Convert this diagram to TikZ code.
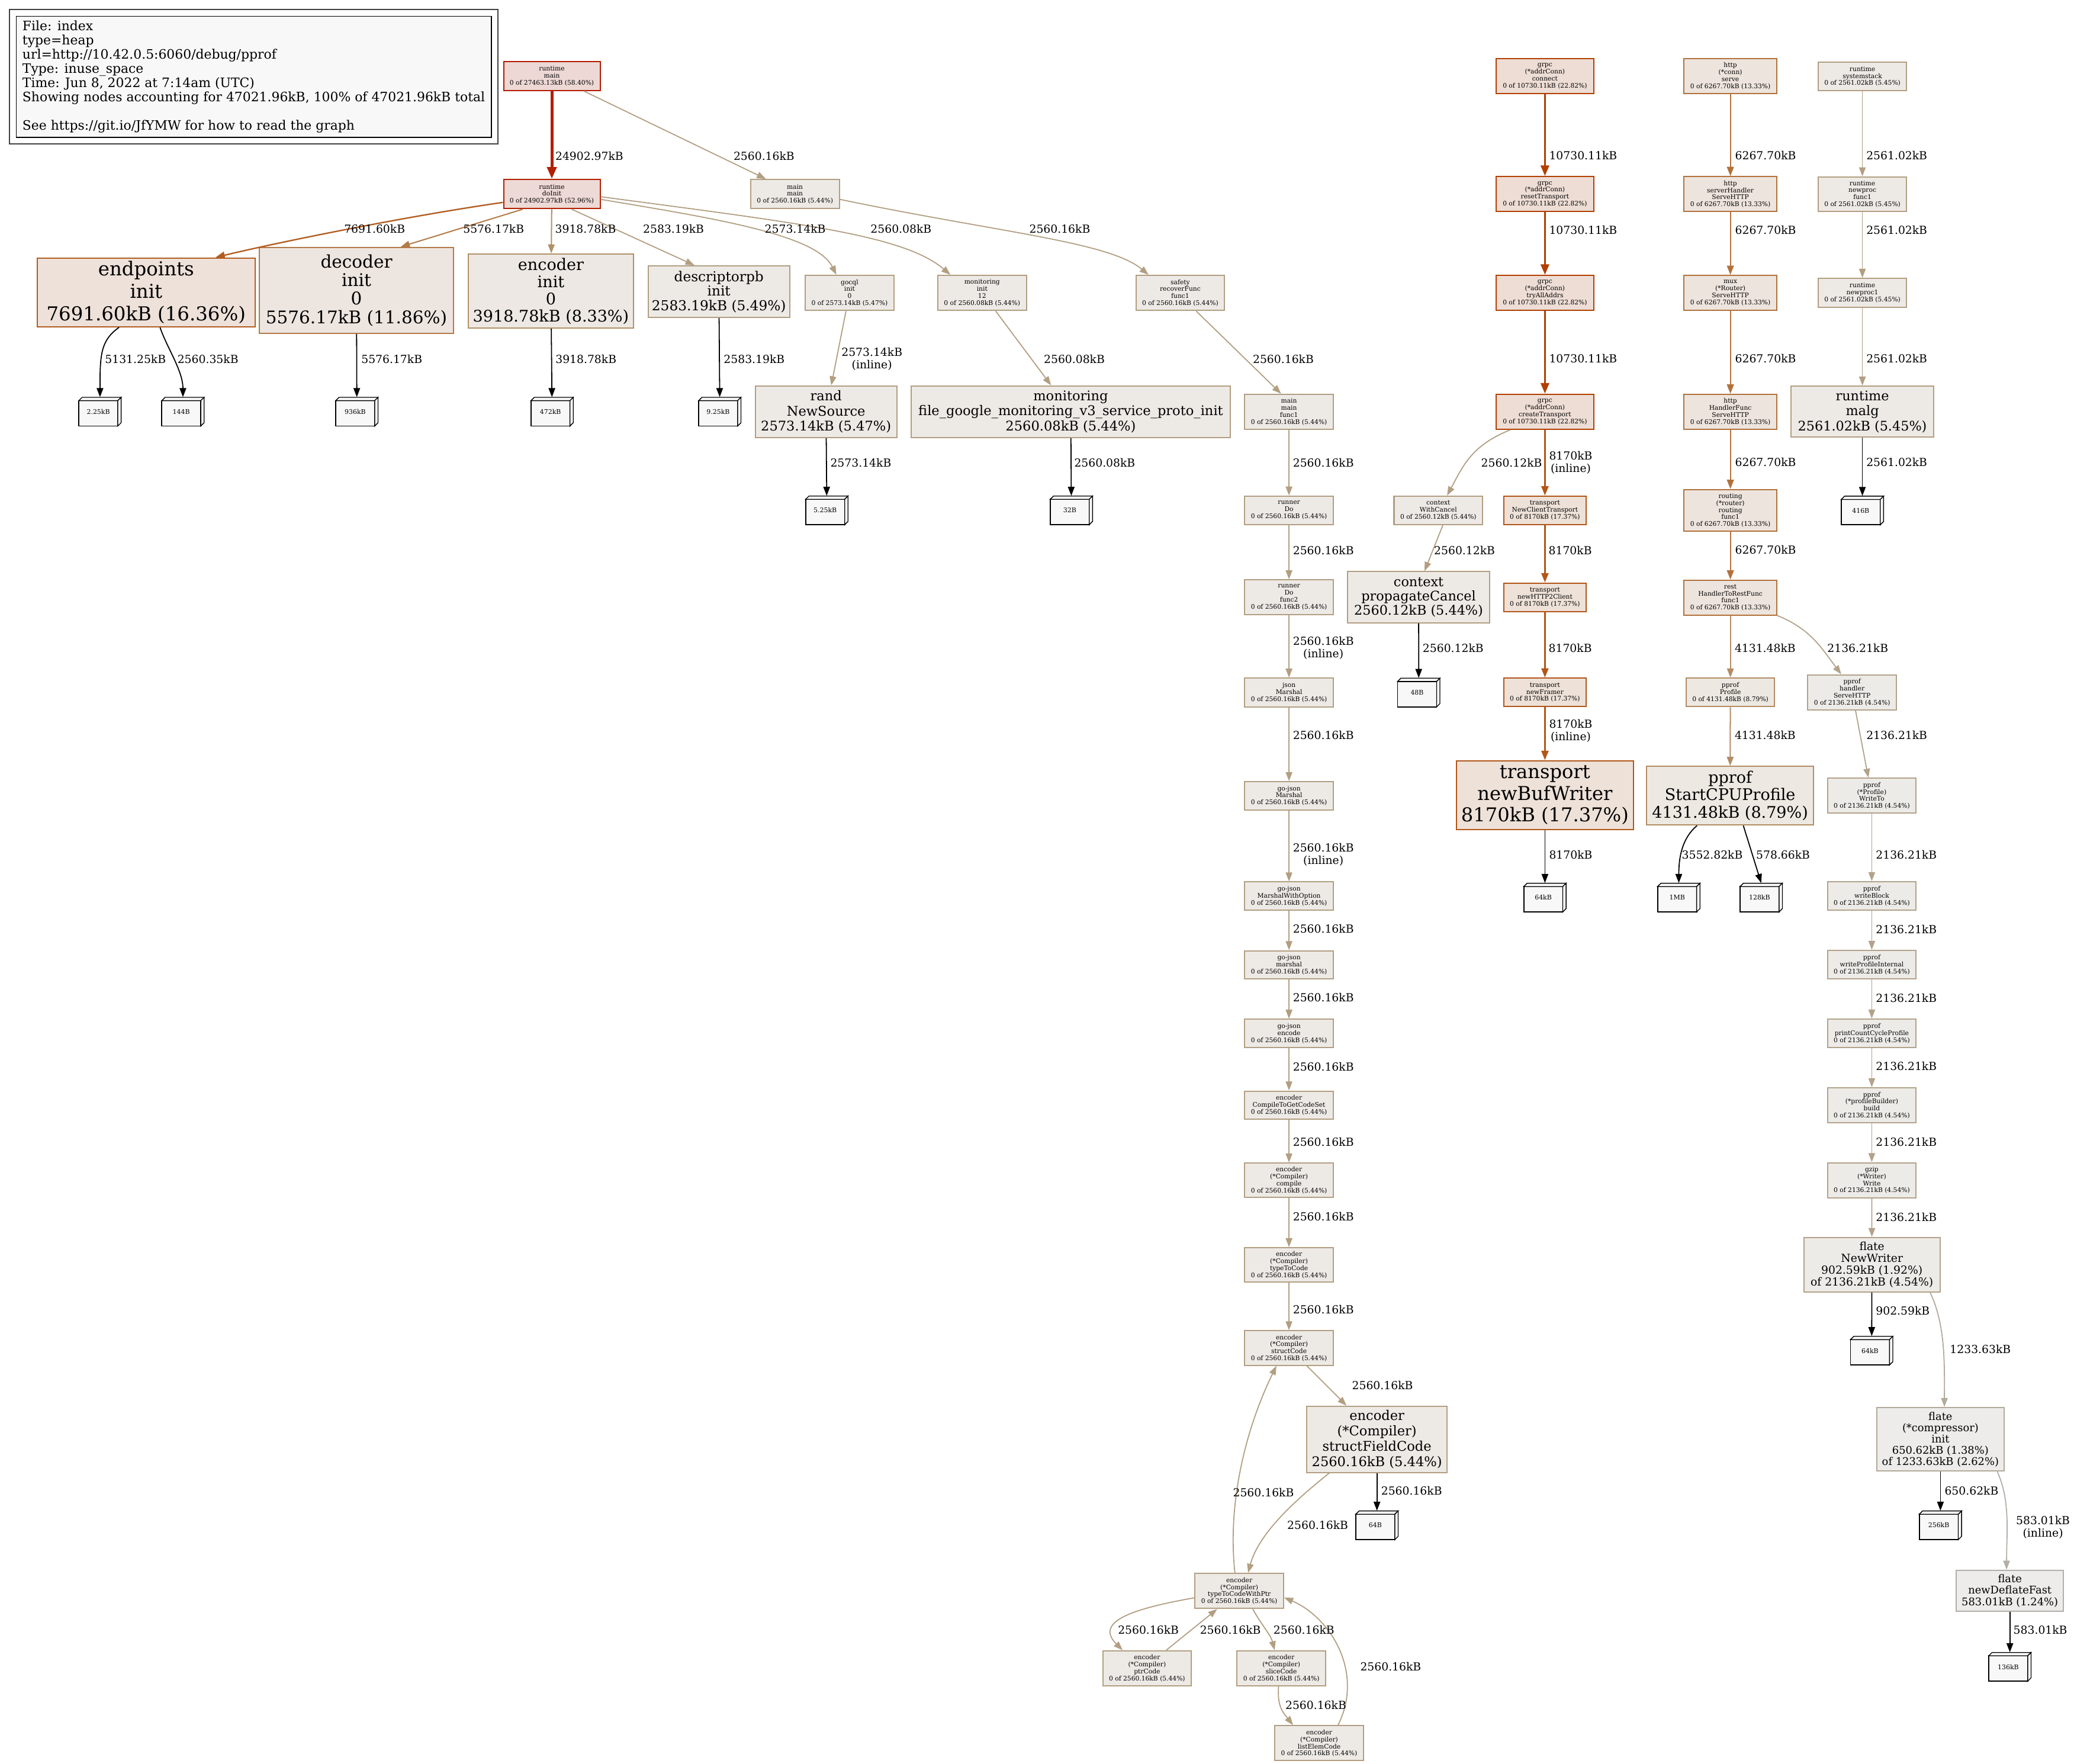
\documentclass[tikz,border=0pt]{standalone}
\usepackage{fontspec}
\setmainfont{DejaVu Serif}
\usetikzlibrary{arrows.meta,fit}
\definecolor{fA}{HTML}{EDD8D5}\definecolor{dA}{HTML}{B21A00}
\definecolor{fB}{HTML}{EDD9D5}\definecolor{dB}{HTML}{B21F00}
\definecolor{fG}{HTML}{EDDDD5}\definecolor{dG}{HTML}{B23F00}
\definecolor{fT}{HTML}{EDE1D8}\definecolor{dT}{HTML}{B25617}
\definecolor{fE}{HTML}{EDE1D9}\definecolor{dE}{HTML}{B25D20}
\definecolor{fH}{HTML}{EDE4DD}\definecolor{dH}{HTML}{B2713B}
\definecolor{fD}{HTML}{EDE5DF}\definecolor{dD}{HTML}{B27A48}
\definecolor{fP}{HTML}{EDE8E2}\definecolor{dP}{HTML}{B28C64}
\definecolor{fN}{HTML}{EDE8E3}\definecolor{dN}{HTML}{B28F68}
\definecolor{fF}{HTML}{EDEAE6}\definecolor{dF}{HTML}{B29E81}
\definecolor{fR}{HTML}{EDEBE7}\definecolor{dR}{HTML}{B2A28A}
\definecolor{fL}{HTML}{EDECEA}\definecolor{dL}{HTML}{B2AA9B}
\definecolor{fM}{HTML}{EDECEB}\definecolor{dM}{HTML}{B2AFA7}
\definecolor{cubef}{HTML}{F8F8F8}
\tikzset{
  nb/.style={rectangle, draw, line width=0.9pt, inner sep=0pt, align=center, text=black},
  sm/.style={font=\fontsize{4.8}{5.3}\selectfont},
  wh/.style 2 args={minimum width=#1, minimum height=#2},
  nA/.style={fill=fA, draw=dA}, nB/.style={fill=fB, draw=dB},
  nG/.style={fill=fG, draw=dG}, nT/.style={fill=fT, draw=dT},
  nE/.style={fill=fE, draw=dE}, nH/.style={fill=fH, draw=dH},
  nD/.style={fill=fD, draw=dD}, nP/.style={fill=fP, draw=dP},
  nN/.style={fill=fN, draw=dN}, nF/.style={fill=fF, draw=dF},
  nR/.style={fill=fR, draw=dR}, nL/.style={fill=fL, draw=dL},
  nM/.style={fill=fM, draw=dM},
  el/.style={anchor=west, inner sep=0pt, align=center, font=\fontsize{8.4}{9.4}\selectfont},
  ed/.style={line width=0.8pt, -{Triangle[length=6.8pt,width=5pt]}},
  eA/.style={draw=dB, line width=2.2pt, -{Triangle[length=9pt,width=7pt]}},
  eG/.style={draw=dG, line width=1.7pt, -{Triangle[length=8pt,width=6.2pt]}},
  eT/.style={draw=dT, line width=1.1pt, -{Triangle[length=7pt,width=5.4pt]}},
  eE/.style={draw=dE, line width=1.05pt, -{Triangle[length=7pt,width=5.4pt]}},
  eH/.style={draw=dH, line width=1pt, -{Triangle[length=7pt,width=5.2pt]}},
  eD/.style={ed, draw=dD, line width=0.9pt},
  eP/.style={ed, draw=dP, line width=0.9pt},
  eN/.style={ed, draw=dN, line width=0.9pt},
  eF/.style={ed, draw=dF},
  eR/.style={ed, draw=dR},
  eL/.style={ed, draw=dL},
  eM/.style={ed, draw=dM},
  eK/.style={ed, draw=black},
  cubebox/.style={rectangle, inner sep=0pt, minimum width=32, minimum height=21.7, font=\fontsize{4.9}{5.2}\selectfont},
  cubeline/.style={draw=black, line width=0.8pt, fill=cubef},
  legendbox/.style={draw=black, line width=0.8pt, fill=cubef, anchor=north west, minimum width=358, minimum height=91.4, inner xsep=4.7pt, inner ysep=0pt, align=left, font=\fontsize{9.8}{10.8}\selectfont}
}
\newcommand\mycube[4]{%
  \draw[cubeline] ({#2-16},{#3-8.35}) rectangle ({#2+13.5},{#3+10.85});
  \draw[cubeline, line width=0.6pt] ({#2-16},{#3-8.35}) -- ({#2-13.5},{#3-10.85}) -- ({#2+16},{#3-10.85}) -- ({#2+13.5},{#3-8.35}) -- cycle;
  \draw[cubeline, line width=0.6pt] ({#2+13.5},{#3-8.35}) -- ({#2+16},{#3-10.85}) -- ({#2+16},{#3+8.35}) -- ({#2+13.5},{#3+10.85}) -- cycle;
  \node[cubebox] (#1) at (#2,#3) {\raisebox{-1.2pt}{\hspace*{-2.5pt}#4}};
}
\begin{document}
\begin{tikzpicture}[x=1pt,y=-1pt]
\useasboundingbox (0,0) rectangle (1568,1333);
\fill[white] (0,0) rectangle (1568,1333);

% legend
\node[legendbox] (legend) at (11.9,11.9) {File: index\\type=heap\\url=http://10.42.0.5:6060/debug/pprof\\Type: inuse\_space\\Time: Jun 8, 2022 at 7:14am (UTC)\\Showing nodes accounting for 47021.96kB, 100\% of 47021.96kB total\\[10.8pt]See https://git.io/JfYMW for how to read the graph};
\node[draw=black!75, line width=0.9pt, fit=(legend), inner sep=4.6pt] (legendframe) {};

% top nodes
\node[nb,sm,nA,wh={73}{21.6}] (rmain) at (417.2,57.5) {runtime\\main\\0 of 27463.13kB (58.40\%)};
\node[nb,sm,nB,wh={73}{22}] (doinit) at (417.2,146.7) {runtime\\doInit\\0 of 24902.97kB (52.96\%)};
\node[nb,sm,nF,wh={67}{22}] (mmain) at (601,146.7) {main\\main\\0 of 2560.16kB (5.44\%)};

\node[nb,nE,wh={165}{52},font=\fontsize{14.5}{17}\selectfont] (endpoints) at (110.5,221) {endpoints\\init\\7691.60kB (16.36\%)};
\node[nb,nD,wh={147}{65},font=\fontsize{13.2}{14}\selectfont] (decoder) at (269.5,219.5) {decoder\\init\\0\\5576.17kB (11.86\%)};
\node[nb,nN,wh={125}{56},font=\fontsize{12.1}{13}\selectfont] (encinit) at (416.5,220) {encoder\\init\\0\\3918.78kB (8.33\%)};
\node[nb,nF,wh={107}{39},font=\fontsize{10.4}{11}\selectfont] (descpb) at (543.5,220.5) {descriptorpb\\init\\2583.19kB (5.49\%)};
\node[nb,sm,nF,wh={67}{26.5}] (gocql) at (642.3,221.4) {gocql\\init\\0\\0 of 2573.14kB (5.47\%)};
\node[nb,sm,nF,wh={67}{26.5}] (moninit) at (742.5,221.4) {monitoring\\init\\12\\0 of 2560.08kB (5.44\%)};
\node[nb,sm,nF,wh={67}{26.5}] (safety) at (892.3,221.4) {safety\\recoverFunc\\func1\\0 of 2560.16kB (5.44\%)};
\node[nb,nF,wh={107}{39},font=\fontsize{10.1}{11.5}\selectfont] (randns) at (624.5,311.2) {rand\\NewSource\\2573.14kB (5.47\%)};
\node[nb,nF,wh={241}{39},font=\fontsize{10.1}{11.5}\selectfont] (monfile) at (809.5,311.2) {monitoring\\file\_google\_monitoring\_v3\_service\_proto\_init\\2560.08kB (5.44\%)};

% middle column
\node[nb,sm,nF,wh={67}{26.3}] (mfunc1) at (974.5,311.2) {main\\main\\func1\\0 of 2560.16kB (5.44\%)};
\node[nb,sm,nF,wh={67}{21.4}] (runnerdo) at (974.5,385.7) {runner\\Do\\0 of 2560.16kB (5.44\%)};
\node[nb,sm,nF,wh={67}{26.1}] (runnerdo2) at (974.5,451.4) {runner\\Do\\func2\\0 of 2560.16kB (5.44\%)};
\node[nb,sm,nF,wh={67}{21.6}] (jsonm) at (974.5,523.5) {json\\Marshal\\0 of 2560.16kB (5.44\%)};
\node[nb,sm,nF,wh={67}{21.3}] (gjm) at (974.5,601.5) {go-json\\Marshal\\0 of 2560.16kB (5.44\%)};
\node[nb,sm,nF,wh={67}{21.4}] (gjmwo) at (974.5,677.4) {go-json\\MarshalWithOption\\0 of 2560.16kB (5.44\%)};
\node[nb,sm,nF,wh={67}{21.3}] (gjmarshal) at (974.5,729.3) {go-json\\marshal\\0 of 2560.16kB (5.44\%)};
\node[nb,sm,nF,wh={67}{21.4}] (gjencode) at (974.5,781.2) {go-json\\encode\\0 of 2560.16kB (5.44\%)};
\node[nb,sm,nF,wh={67}{21.3}] (ctgcs) at (974.5,835.4) {encoder\\CompileToGetCodeSet\\0 of 2560.16kB (5.44\%)};
\node[nb,sm,nF,wh={67}{26}] (compile) at (974.5,892.2) {encoder\\(*Compiler)\\compile\\0 of 2560.16kB (5.44\%)};
\node[nb,sm,nF,wh={67}{26}] (ttc) at (974.5,956.2) {encoder\\(*Compiler)\\typeToCode\\0 of 2560.16kB (5.44\%)};
\node[nb,sm,nF,wh={67}{26}] (structcode) at (974.5,1019) {encoder\\(*Compiler)\\structCode\\0 of 2560.16kB (5.44\%)};
\node[nb,nF,wh={106}{50},font=\fontsize{10.1}{11.7}\selectfont] (sfc) at (1041,1088) {encoder\\(*Compiler)\\structFieldCode\\2560.16kB (5.44\%)};
\node[nb,sm,nF,wh={67}{26.5}] (ttcwp) at (936.9,1202.6) {encoder\\(*Compiler)\\typeToCodeWithPtr\\0 of 2560.16kB (5.44\%)};
\node[nb,sm,nF,wh={67}{26.5}] (ptrcode) at (867.2,1261.1) {encoder\\(*Compiler)\\ptrCode\\0 of 2560.16kB (5.44\%)};
\node[nb,sm,nF,wh={67}{26.5}] (slicecode) at (968.7,1261.1) {encoder\\(*Compiler)\\sliceCode\\0 of 2560.16kB (5.44\%)};
\node[nb,sm,nF,wh={67}{26.5}] (listelem) at (997.3,1317.7) {encoder\\(*Compiler)\\listElemCode\\0 of 2560.16kB (5.44\%)};

% grpc column
\node[nb,sm,nG,wh={73.5}{26.4}] (gconnect) at (1168,57.5) {grpc\\(*addrConn)\\connect\\0 of 10730.11kB (22.82\%)};
\node[nb,sm,nG,wh={73.5}{26.4}] (greset) at (1168,146.7) {grpc\\(*addrConn)\\resetTransport\\0 of 10730.11kB (22.82\%)};
\node[nb,sm,nG,wh={73.5}{26.4}] (gtry) at (1168,221.4) {grpc\\(*addrConn)\\tryAllAddrs\\0 of 10730.11kB (22.82\%)};
\node[nb,sm,nG,wh={73.5}{26.4}] (gcreate) at (1168,311.2) {grpc\\(*addrConn)\\createTransport\\0 of 10730.11kB (22.82\%)};
\node[nb,sm,nF,wh={67}{21.6}] (withcancel) at (1087.4,385.8) {context\\WithCancel\\0 of 2560.12kB (5.44\%)};
\node[nb,sm,nT,wh={62.4}{21.6}] (nct) at (1168,385.8) {transport\\NewClientTransport\\0 of 8170kB (17.37\%)};
\node[nb,sm,nT,wh={62.4}{21.6}] (nh2c) at (1168,451.5) {transport\\newHTTP2Client\\0 of 8170kB (17.37\%)};
\node[nb,sm,nT,wh={62.4}{21.6}] (nframer) at (1168,523.4) {transport\\newFramer\\0 of 8170kB (17.37\%)};
\node[nb,nF,wh={107.5}{38.7},font=\fontsize{10}{10.6}\selectfont] (propcancel) at (1072.5,451.4) {context\\propagateCancel\\2560.12kB (5.44\%)};
\node[nb,nT,wh={134}{52},font=\fontsize{14.4}{16.5}\selectfont] (nbw) at (1168,601) {transport\\newBufWriter\\8170kB (17.37\%)};

% http column
\node[nb,sm,nH,wh={70}{26.3}] (hserve) at (1308.2,57.5) {http\\(*conn)\\serve\\0 of 6267.70kB (13.33\%)};
\node[nb,sm,nH,wh={70}{26.3}] (hsh) at (1308.2,146.7) {http\\serverHandler\\ServeHTTP\\0 of 6267.70kB (13.33\%)};
\node[nb,sm,nH,wh={70}{26.3}] (mux) at (1308.2,221.4) {mux\\(*Router)\\ServeHTTP\\0 of 6267.70kB (13.33\%)};
\node[nb,sm,nH,wh={70}{26.3}] (hfunc) at (1308.2,311.2) {http\\HandlerFunc\\ServeHTTP\\0 of 6267.70kB (13.33\%)};
\node[nb,sm,nH,wh={70}{31.5}] (routing) at (1308.2,385.8) {routing\\(*router)\\routing\\func1\\0 of 6267.70kB (13.33\%)};
\node[nb,sm,nH,wh={70}{26.3}] (rest) at (1308.2,451.7) {rest\\HandlerToRestFunc\\func1\\0 of 6267.70kB (13.33\%)};
\node[nb,sm,nP,wh={67}{21.6}] (pprofprof) at (1308.2,523.4) {pprof\\Profile\\0 of 4131.48kB (8.79\%)};
\node[nb,nP,wh={126}{44.3},font=\fontsize{12.1}{13}\selectfont] (startcpu) at (1308,601.5) {pprof\\StartCPUProfile\\4131.48kB (8.79\%)};
\node[nb,sm,nR,wh={67}{26.5}] (handler) at (1400.2,523.4) {pprof\\handler\\ServeHTTP\\0 of 2136.21kB (4.54\%)};
\node[nb,sm,nR,wh={67}{26.4}] (writeto) at (1415.1,601.5) {pprof\\(*Profile)\\WriteTo\\0 of 2136.21kB (4.54\%)};
\node[nb,sm,nR,wh={67}{21.6}] (writeblock) at (1415.1,677.3) {pprof\\writeBlock\\0 of 2136.21kB (4.54\%)};
\node[nb,sm,nR,wh={67}{21.6}] (wpi) at (1415.1,729.2) {pprof\\writeProfileInternal\\0 of 2136.21kB (4.54\%)};
\node[nb,sm,nR,wh={67}{21.6}] (pccp) at (1415.1,781.2) {pprof\\printCountCycleProfile\\0 of 2136.21kB (4.54\%)};
\node[nb,sm,nR,wh={67}{26.4}] (build) at (1415.1,835.5) {pprof\\(*profileBuilder)\\build\\0 of 2136.21kB (4.54\%)};
\node[nb,sm,nR,wh={67}{26.4}] (gzip) at (1415.1,892.1) {gzip\\(*Writer)\\Write\\0 of 2136.21kB (4.54\%)};
\node[nb,nR,wh={102.8}{41},font=\fontsize{8.4}{9}\selectfont] (newwriter) at (1415.2,956) {flate\\NewWriter\\902.59kB (1.92\%)\\of 2136.21kB (4.54\%)};
\node[nb,nL,wh={96}{48},font=\fontsize{8}{8.5}\selectfont] (compinit) at (1467,1088) {flate\\(*compressor)\\init\\650.62kB (1.38\%)\\of 1233.63kB (2.62\%)};
\node[nb,nM,wh={81}{31},font=\fontsize{8}{8.8}\selectfont] (ndf) at (1519.5,1202.5) {flate\\newDeflateFast\\583.01kB (1.24\%)};

% runtime systemstack column
\node[nb,sm,nF,wh={67}{21.4}] (sysstack) at (1408,57.7) {runtime\\systemstack\\0 of 2561.02kB (5.45\%)};
\node[nb,sm,nF,wh={67}{26}] (newprocf) at (1408,146.7) {runtime\\newproc\\func1\\0 of 2561.02kB (5.45\%)};
\node[nb,sm,nF,wh={67}{21.7}] (newproc1) at (1408,221.3) {runtime\\newproc1\\0 of 2561.02kB (5.45\%)};
\node[nb,nF,wh={108}{38.6},font=\fontsize{10}{11.5}\selectfont] (malg) at (1408,311.2) {runtime\\malg\\2561.02kB (5.45\%)};

% cubes
\mycube{c225}{75.6}{311.2}{2.25kB}
\mycube{c144}{138.3}{311.2}{144B}
\mycube{c936}{269.8}{311.2}{936kB}
\mycube{c472}{417.4}{311.2}{472kB}
\mycube{c925}{544.2}{311.2}{9.25kB}
\mycube{c525}{625.1}{385.8}{5.25kB}
\mycube{c32}{810}{385.8}{32B}
\mycube{c48}{1072.6}{523.5}{48B}
\mycube{c64k}{1168}{678.5}{64kB}
\mycube{c416}{1408}{385.9}{416B}
\mycube{c1m}{1269.2}{678.5}{1MB}
\mycube{c128}{1331.5}{678.5}{128kB}
\mycube{c64kb}{1415}{1021}{64kB}
\mycube{c64b}{1041}{1153}{64B}
\mycube{c256}{1467}{1153}{256kB}
\mycube{c136}{1519.5}{1260}{136kB}

% edges: top
\draw[eA] (rmain) -- (doinit);
\draw[eF] ([shift={(24,0)}]rmain.south) -- ([shift={(-22,0)}]mmain.north);
\draw[eE] ([shift={(0,6.3)}]doinit.west) .. controls +(-70,10) and +(50,-12) .. ([shift={(52.5,0)}]endpoints.north);
\draw[eD] ([shift={(-22,0)}]doinit.south) -- ([shift={(33.5,0)}]decoder.north);
\draw[eN] (doinit) -- (encinit);
\draw[eF] ([shift={(15,0)}]doinit.south) -- ([shift={(-18.5,0)}]descpb.north);
\draw[eF] ([shift={(0,4)}]doinit.east) .. controls +(90,15) and +(-15,-30) .. ([shift={(-10,0)}]gocql.north);
\draw[eF] ([shift={(0,2)}]doinit.east) .. controls +(150,20) and +(-35,-30) .. ([shift={(-24,0)}]moninit.north);
\draw[eF] ([shift={(0,4)}]mmain.east) .. controls +(120,25) and +(-30,-25) .. ([shift={(-24,0)}]safety.north);
\draw[eF] ([shift={(12,0)}]safety.south) -- ([shift={(-6,0)}]mfunc1.north);
\draw[eF] (gocql) -- (randns);
\draw[eF] (moninit) -- (monfile);
\draw[eK] ([shift={(-20.5,0)}]endpoints.south) .. controls +(-14,10) and +(0,-32) .. (c225.north);
\draw[eK] ([shift={(10.5,0)}]endpoints.south) .. controls +(5,15) and +(0,-20) .. (c144.north);
\draw[eK] (decoder) -- (c936);
\draw[eK] (encinit) -- (c472);
\draw[eK] (descpb) -- (c925);
\draw[eK] (randns) -- (c525);
\draw[eK] (monfile) -- (c32);

% middle chain
\draw[eF] (mfunc1) -- (runnerdo);
\draw[eF] (runnerdo) -- (runnerdo2);
\draw[eF] (runnerdo2) -- (jsonm);
\draw[eF] (jsonm) -- (gjm);
\draw[eF] (gjm) -- (gjmwo);
\draw[eF] (gjmwo) -- (gjmarshal);
\draw[eF] (gjmarshal) -- (gjencode);
\draw[eF] (gjencode) -- (ctgcs);
\draw[eF] (ctgcs) -- (compile);
\draw[eF] (compile) -- (ttc);
\draw[eF] (ttc) -- (structcode);
\draw[eF] ([shift={(13.5,0)}]structcode.south) -- ([shift={(-23,0)}]sfc.north);
\draw[eK] (sfc) -- (c64b);
\draw[eF] ([shift={(-36,0)}]sfc.south) .. controls +(-25,20) and +(8,-30) .. ([shift={(6.7,0)}]ttcwp.north);
\draw[eF] ([shift={(-3.3,0)}]ttcwp.north) .. controls +(-6,-55) and +(-22,45) .. ([shift={(-9.5,0)}]structcode.south);
\draw[eF] ([shift={(0,5.2)}]ttcwp.west) .. controls +(-45,8) and +(-22,-22) .. ([shift={(-18.5,0)}]ptrcode.north);
\draw[eF] ([shift={(14.5,0)}]ptrcode.north) -- ([shift={(-16.7,0)}]ttcwp.south);
\draw[eF] ([shift={(10.3,0)}]ttcwp.south) .. controls +(5,10) and +(-3,-12) .. ([shift={(-5.1,0)}]slicecode.north);
\draw[eF] ([shift={(-2.1,0)}]slicecode.south) .. controls +(-1,15) and +(-8,-10) .. ([shift={(-19.7,0)}]listelem.north);
\draw[eF] ([shift={(14.3,0)}]listelem.north) .. controls +(20,-40) and +(35,15) .. ([shift={(0,5)}]ttcwp.east);

% grpc edges
\draw[eG] (gconnect) -- (greset);
\draw[eG] (greset) -- (gtry);
\draw[eG] (gtry) -- (gcreate);
\draw[eT] (gcreate) -- (nct);
\draw[eF] ([shift={(-26,0)}]gcreate.south) .. controls +(-30,12) and +(12,-22) .. ([shift={(6.6,0)}]withcancel.north);
\draw[eT] (nct) -- (nh2c);
\draw[eT] (nh2c) -- (nframer);
\draw[eT] (nframer) -- (nbw);
\draw[eK] (nbw) -- (c64k);
\draw[eF] ([shift={(3.4,0)}]withcancel.south) -- ([shift={(4.5,0)}]propcancel.north);
\draw[eK] (propcancel) -- (c48);

% http edges
\draw[eH] (hserve) -- (hsh);
\draw[eH] (hsh) -- (mux);
\draw[eH] (mux) -- (hfunc);
\draw[eH] (hfunc) -- (routing);
\draw[eH] (routing) -- (rest);
\draw[eP] (rest) -- (pprofprof);
\draw[eR] (rest.south east) .. controls +(25,10) and +(-15,-20) .. ([shift={(-8.2,0)}]handler.north);
\draw[eP] (pprofprof) -- (startcpu);
\draw[eR] (handler) -- (writeto);
\draw[eK] ([shift={(-25,0)}]startcpu.south) .. controls +(-12,10) and +(0,-18) .. (c1m.north);
\draw[eK] ([shift={(10,0)}]startcpu.south) -- (c128.north);
\draw[eR] (writeto) -- (writeblock);
\draw[eR] (writeblock) -- (wpi);
\draw[eR] (wpi) -- (pccp);
\draw[eR] (pccp) -- (build);
\draw[eR] (build) -- (gzip);
\draw[eR] (gzip) -- (newwriter);
\draw[eK] (newwriter) -- (c64kb);
\draw[eL] ([shift={(44,0)}]newwriter.south) .. controls +(12,25) and +(0,-30) .. ([shift={(3,0)}]compinit.north);
\draw[eK] (compinit) -- (c256);
\draw[eM] ([shift={(43,0)}]compinit.south) .. controls +(10,22) and +(0,-28) .. ([shift={(-2.5,0)}]ndf.north);
\draw[eK] (ndf) -- (c136);

% systemstack edges
\draw[eF] (sysstack) -- (newprocf);
\draw[eF] (newprocf) -- (newproc1);
\draw[eF] (newproc1) -- (malg);
\draw[eK] (malg) -- (c416);

% edge labels
\node[el] (l01) at (419.7,117.8) {24902.97kB};
\node[el] (l02) at (554.4,117.8) {2560.16kB};
\node[el] (l03) at (260,173) {7691.60kB};
\node[el] (l04) at (350,173) {5576.17kB};
\node[el] (l05) at (419.5,173) {3918.78kB};
\node[el] (l06) at (486,173) {2583.19kB};
\node[el] (l07) at (578,173) {2573.14kB};
\node[el] (l08) at (658,173) {2560.08kB};
\node[el] (l09) at (778,173) {2560.16kB};
\node[el] (l10) at (79.2,271.6) {5131.25kB};
\node[el] (l11) at (134,271.6) {2560.35kB};
\node[el] (l12) at (273,271.6) {5576.17kB};
\node[el] (l13) at (419.8,271.6) {3918.78kB};
\node[el] (l14) at (547,271.6) {2583.19kB};
\node[el] (l15) at (636,271.6) {2573.14kB\\(inline)};
\node[el] (l16) at (789,271.6) {2560.08kB};
\node[el] (l17) at (947,271.6) {2560.16kB};
\node[el] (l18) at (627.6,349.6) {2573.14kB};
\node[el] (l19) at (812,349.6) {2560.08kB};
\node[el] (l20) at (977.3,349.6) {2560.16kB};
\node[el] (l21) at (977.3,416) {2560.16kB};
\node[el] (l22) at (977.3,490) {2560.16kB\\(inline)};
\node[el] (l23) at (977.3,555.6) {2560.16kB};
\node[el] (l24) at (977.3,646.2) {2560.16kB\\(inline)};
\node[el] (l25) at (977.3,702.2) {2560.16kB};
\node[el] (l26) at (977.3,754.1) {2560.16kB};
\node[el] (l27) at (977.3,806.3) {2560.16kB};
\node[el] (l28) at (977.3,863) {2560.16kB};
\node[el] (l29) at (977.3,919.8) {2560.16kB};
\node[el] (l30) at (977.3,990) {2560.16kB};
\node[el] (l31) at (1022,1047) {2560.16kB};
\node[el] (l32) at (1044,1127) {2560.16kB};
\node[el] (l33) at (973,1153) {2560.16kB};
\node[el] (l34) at (932,1128) {2560.16kB};
\node[el] (l35) at (845,1232) {2560.16kB};
\node[el] (l36) at (907,1232) {2560.16kB};
\node[el] (l37) at (962.6,1232) {2560.16kB};
\node[el] (l38) at (1028.2,1260) {2560.16kB};
\node[el] (l39) at (971.6,1288.9) {2560.16kB};
\node[el] (l40) at (1171,117.3) {10730.11kB};
\node[el] (l41) at (1171,174) {10730.11kB};
\node[el] (l42) at (1171,271) {10730.11kB};
\node[el] (l43) at (1171,349.7) {8170kB\\(inline)};
\node[el] (l44) at (1119.6,349.8) {2560.12kB};
\node[el] (l45) at (1170.6,415.9) {8170kB};
\node[el] (l46) at (1084,416) {2560.12kB};
\node[el] (l47) at (1170.6,489.7) {8170kB};
\node[el] (l48) at (1075.4,489.7) {2560.12kB};
\node[el] (l49) at (1171,552.5) {8170kB\\(inline)};
\node[el] (l50) at (1171,646) {8170kB};
\node[el] (l51) at (1311.6,117.5) {6267.70kB};
\node[el] (l52) at (1311.6,174) {6267.70kB};
\node[el] (l53) at (1311.6,271) {6267.70kB};
\node[el] (l54) at (1311.6,349.4) {6267.70kB};
\node[el] (l55) at (1311.6,415.5) {6267.70kB};
\node[el] (l56) at (1311.3,489.9) {4131.48kB};
\node[el] (l57) at (1381.3,489.9) {2136.21kB};
\node[el] (l58) at (1311.3,555.8) {4131.48kB};
\node[el] (l59) at (1410.8,555.8) {2136.21kB};
\node[el] (l60) at (1271.3,646.1) {3552.82kB};
\node[el] (l61) at (1327.5,646.1) {578.66kB};
\node[el] (l62) at (1418,646.1) {2136.21kB};
\node[el] (l63) at (1418,702.5) {2136.21kB};
\node[el] (l64) at (1418,754.4) {2136.21kB};
\node[el] (l65) at (1418,806) {2136.21kB};
\node[el] (l66) at (1418,863) {2136.21kB};
\node[el] (l67) at (1418,919.9) {2136.21kB};
\node[el] (l68) at (1418,991) {902.59kB};
\node[el] (l69) at (1474,1020) {1233.63kB};
\node[el] (l70) at (1470,1127) {650.62kB};
\node[el] (l71) at (1524,1154.5) {583.01kB\\(inline)};
\node[el] (l72) at (1522,1232) {583.01kB};
\node[el] (l73) at (1410.8,117.5) {2561.02kB};
\node[el] (l74) at (1410.8,174) {2561.02kB};
\node[el] (l75) at (1410.8,271) {2561.02kB};
\node[el] (l76) at (1410.8,349.4) {2561.02kB};
\end{tikzpicture}
\end{document}
